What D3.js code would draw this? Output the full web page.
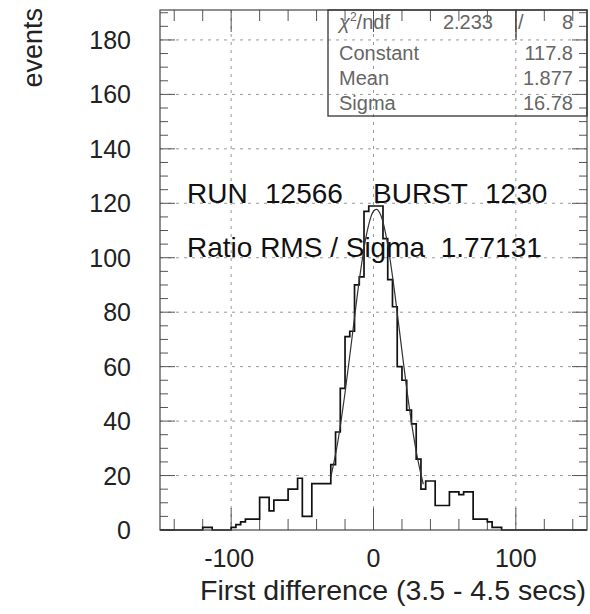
<!DOCTYPE html>
<html>
<head>
<meta charset="utf-8">
<script src="https://d3js.org/d3.v7.min.js"></script>
<style>
  body { margin: 0; background: #fff; }
  text { font-family: "Liberation Sans", Arial, Helvetica, sans-serif; }
</style>
</head>
<body>
<div id="chart"></div>
<script>
//Data: histogram bin lower edges are implied by binStart + i*binWidth
var binStart = -150, binWidth = 10 / 3;
var counts = [
  0, 0, 0, 0, 0, 0, 0, 0, 0, 1,
  1, 0, 0, 0, 0, 1, 2, 3, 4, 4,
  4, 12, 12, 7, 11, 11, 11, 15, 15, 19,
  5, 5, 17, 17, 17, 17, 24, 36, 52, 71,
  73, 90, 93, 117, 119, 119, 119, 107, 92, 82,
  60, 55, 44, 39, 26, 15, 18, 18, 9, 9,
  9, 14, 14, 13, 14, 14, 4, 4, 4, 3,
  1, 1, 0, 0, 0, 0, 0, 0, 0, 0,
  0, 0, 0, 0, 0, 0, 0, 0, 0, 0
];

//Fit curve points (drawn over the fit range only)
var fitX = [-30, -25, -20, -15, -10, -5, 0, 2, 5, 10, 15, 20, 25, 30, 35];
var fitY = [19.4, 32.6, 50.4, 71.0, 91.7, 108.3, 117.1, 117.8, 115.8, 104.8, 86.8, 65.7, 45.6, 28.9, 16.8];

//Axis ticks
var xLabelTicks = [-100, 0, 100];
var yLabelTicks = [0, 20, 40, 60, 80, 100, 120, 140, 160, 180];

//Stats box rows
var statNames = ["Constant", "Mean", "Sigma"];
var statValues = ["117.8", "1.877", "16.78"];

//Define frame
var frame = {left: 160, right: 587, top: 10, bottom: 530};

var svg = d3.select("div#chart")
    .append("svg")
    .attr("width", 590)
    .attr("height", 614);

//Define Scales
var xScale = d3.scaleLinear()
    .domain([-150, 150])
    .range([frame.left, frame.right]);

var yScale = d3.scaleLinear()
    .domain([0, 191])
    .range([frame.bottom, frame.top]);

//Grid lines (dotted)
svg.append("g").selectAll("line")
    .data(yLabelTicks.filter(function(d) { return d > 0; }))
    .enter().append("line")
    .attr("x1", frame.left).attr("x2", frame.right)
    .attr("y1", function(d) { return yScale(d); })
    .attr("y2", function(d) { return yScale(d); })
    .attr("stroke", "#9a9a9a")
    .attr("stroke-width", 1)
    .attr("stroke-dasharray", "3,5");

svg.append("g").selectAll("line")
    .data(xLabelTicks)
    .enter().append("line")
    .attr("x1", function(d) { return xScale(d); })
    .attr("x2", function(d) { return xScale(d); })
    .attr("y1", frame.top).attr("y2", frame.bottom)
    .attr("stroke", "#9a9a9a")
    .attr("stroke-width", 1)
    .attr("stroke-dasharray", "3,5");

//Ticks on all four sides
var tickColor = "#555";
var xMinor = d3.range(-140, 141, 20);
var yMinor = d3.range(0, 191, 5);

function xLen(d) { return xLabelTicks.indexOf(d) >= 0 ? 22 : 11; }
function yLen(d) { return d % 20 === 0 ? 15 : 8; }

var ticks = svg.append("g").attr("stroke", tickColor).attr("stroke-width", 1);
ticks.selectAll(".xb").data(xMinor).enter().append("line")
    .attr("x1", function(d) { return xScale(d); }).attr("x2", function(d) { return xScale(d); })
    .attr("y1", frame.bottom).attr("y2", function(d) { return frame.bottom - xLen(d); });
ticks.selectAll(".xt").data(xMinor).enter().append("line")
    .attr("x1", function(d) { return xScale(d); }).attr("x2", function(d) { return xScale(d); })
    .attr("y1", frame.top).attr("y2", function(d) { return frame.top + xLen(d); });
ticks.selectAll(".yl").data(yMinor).enter().append("line")
    .attr("y1", function(d) { return yScale(d); }).attr("y2", function(d) { return yScale(d); })
    .attr("x1", frame.left).attr("x2", function(d) { return frame.left + yLen(d); });
ticks.selectAll(".yr").data(yMinor).enter().append("line")
    .attr("y1", function(d) { return yScale(d); }).attr("y2", function(d) { return yScale(d); })
    .attr("x1", frame.right).attr("x2", function(d) { return frame.right - yLen(d); });

//Histogram outline
var histPts = counts.map(function(c, i) { return [binStart + i * binWidth, c]; });
histPts.push([150, counts[counts.length - 1]]);

var stepLine = d3.line()
    .x(function(d) { return xScale(d[0]); })
    .y(function(d) { return yScale(d[1]); })
    .curve(d3.curveStepAfter);

svg.append("path")
    .datum(histPts)
    .attr("d", stepLine)
    .attr("fill", "none")
    .attr("stroke", "#111")
    .attr("stroke-width", 1.7);

//Fit curve
var fitLine = d3.line()
    .x(function(d, i) { return xScale(fitX[i]); })
    .y(function(d) { return yScale(d); })
    .curve(d3.curveMonotoneX);

svg.append("path")
    .datum(fitY)
    .attr("d", fitLine)
    .attr("fill", "none")
    .attr("stroke", "#333")
    .attr("stroke-width", 1.2);

//Frame
svg.append("rect")
    .attr("x", frame.left).attr("y", frame.top)
    .attr("width", frame.right - frame.left)
    .attr("height", frame.bottom - frame.top)
    .attr("fill", "none")
    .attr("stroke", "#444")
    .attr("stroke-width", 1.2);

//Tick labels
svg.append("g").selectAll("text")
    .data(yLabelTicks)
    .enter().append("text")
    .attr("x", 131)
    .attr("y", function(d) { return yScale(d) + 9; })
    .attr("text-anchor", "end")
    .attr("font-size", "25px")
    .attr("fill", "#222")
    .text(function(d) { return d; });

svg.append("g").selectAll("text")
    .data(xLabelTicks)
    .enter().append("text")
    .attr("x", function(d) { return xScale(d) - (d < 0 ? 2 : 0); })
    .attr("y", 567)
    .attr("text-anchor", "middle")
    .attr("font-size", "25px")
    .attr("fill", "#222")
    .text(function(d) { return d; });

//Axis titles
svg.append("text")
    .attr("x", 586).attr("y", 600)
    .attr("text-anchor", "end")
    .attr("font-size", "28.5px")
    .attr("fill", "#222")
    .text("First difference (3.5 - 4.5 secs)");

svg.append("text")
    .attr("transform", "translate(42,8) rotate(-90)")
    .attr("text-anchor", "end")
    .attr("font-size", "27px")
    .attr("fill", "#222")
    .text("events");

//Annotations
var run = svg.append("text")
    .attr("y", 203)
    .attr("font-size", "28px")
    .attr("fill", "#111");
run.append("tspan").attr("x", 187).text("RUN");
run.append("tspan").attr("x", 265).text("12566");
run.append("tspan").attr("x", 373).text("BURST");
run.append("tspan").attr("x", 485).text("1230");

svg.append("text")
    .attr("x", 187).attr("y", 257)
    .attr("font-size", "28px")
    .attr("fill", "#111")
    .attr("xml:space", "preserve")
    .style("white-space", "pre")
    .text("Ratio RMS / Sigma  1.77131");

//Stats box
var box = {left: 328, right: frame.right, top: frame.top, bottom: 116};
svg.append("rect")
    .attr("x", box.left).attr("y", box.top)
    .attr("width", box.right - box.left)
    .attr("height", box.bottom - box.top)
    .attr("fill", "none")
    .attr("stroke", "#333")
    .attr("stroke-width", 1.3);

svg.append("line")
    .attr("x1", 516).attr("x2", 516)
    .attr("y1", box.top).attr("y2", 40)
    .attr("stroke", "#333").attr("stroke-width", 1.2);

var stats = svg.append("g")
    .attr("font-size", "20px")
    .attr("fill", "#666");

var chi = stats.append("text").attr("x", 339).attr("y", 29);
chi.append("tspan").style("font-style", "italic").text("\u03C7");
chi.append("tspan").attr("dy", -8).attr("font-size", "12px").text("2");
chi.append("tspan").attr("dy", 8).text("/ndf");
stats.append("text").attr("x", 493).attr("y", 29).attr("text-anchor", "end").text("2.233");
stats.append("text").attr("x", 518).attr("y", 29).text("/");
stats.append("text").attr("x", 573).attr("y", 29).attr("text-anchor", "end").text("8");

stats.selectAll(".nm").data(statNames).enter().append("text")
    .attr("x", 339)
    .attr("y", function(d, i) { return 60 + i * 25; })
    .text(function(d) { return d; });

stats.selectAll(".vl").data(statValues).enter().append("text")
    .attr("x", 573)
    .attr("y", function(d, i) { return 60 + i * 25; })
    .attr("text-anchor", "end")
    .text(function(d) { return d; });
</script>
</body>
</html>
